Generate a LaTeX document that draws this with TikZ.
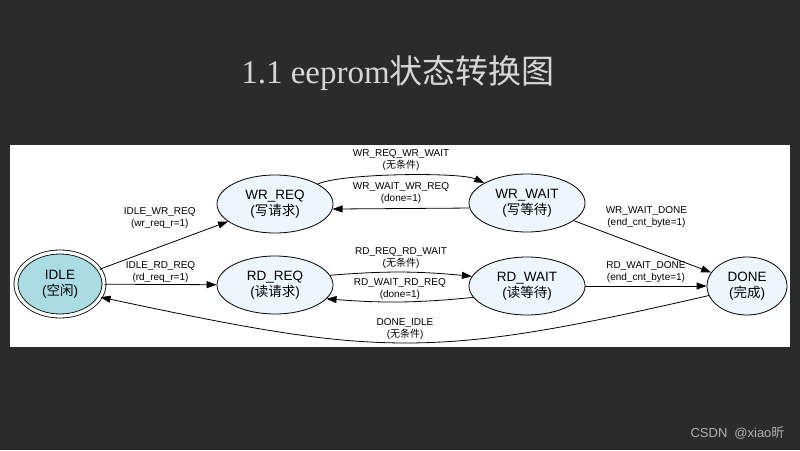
\documentclass[tikz,border=0pt]{standalone}
\usepackage{fontspec}
\setmainfont{Liberation Sans}
\newfontfamily\titlefont{Liberation Serif}
\newfontfamily\cjk{Noto Sans CJK SC}
\usetikzlibrary{shapes.geometric,arrows.meta}
\definecolor{bgdark}{HTML}{2B2B2B}
\definecolor{statefill}{HTML}{EEF6FD}
\definecolor{idlefill}{HTML}{AADDE3}
\definecolor{titlegray}{HTML}{D6D6D6}
\begin{document}
\begin{tikzpicture}
		[x=1pt,y=1pt,
		state/.style={ellipse,draw,line width=0.8pt,fill=statefill,
			minimum width=116pt,minimum height=58pt,inner sep=0pt,
			align=center,font=\fontsize{13.5}{16}\selectfont},
		lbl/.style={align=center,inner sep=0pt,
			font=\fontsize{10}{12}\selectfont},
		arr/.style={-{Triangle[length=10pt,width=7pt]},line width=0.8pt}]
		\fill[bgdark] (0,0) rectangle (800,450);
		\fill[white] (10,103) rectangle (790,305);
		\node (title) at (398,377) [text=titlegray,font=\fontsize{33}{36}\selectfont]
			{{\titlefont 1.1 eeprom}{\cjk 状态转换图}};
		\node (mark) at (788,17) [anchor=east,text=gray!60,font=\fontsize{13}{15}\selectfont]
			{CSDN\hspace{7pt}@xiao{\cjk 昕}};
		% states
		\node[state,fill=idlefill,minimum width=88pt,minimum height=64pt,
			double,double distance=3.2pt] (idle) at (60,166) {IDLE\\({\cjk 空闲})};
		\node[state] (wrreq) at (275,246) {WR\_REQ\\({\cjk 写请求})};
		\node[state] (rdreq) at (275,165) {RD\_REQ\\({\cjk 读请求})};
		\node[state] (wrwait) at (527,247) {WR\_WAIT\\({\cjk 写等待})};
		\node[state] (rdwait) at (527,164) {RD\_WAIT\\({\cjk 读等待})};
		\node[state,minimum width=80pt] (done) at (747,164) {DONE\\({\cjk 完成})};
		% transitions
		\draw[arr] (idle) -- node[lbl,shift={(-4,27)}] {IDLE\_WR\_REQ\\(wr\_req\_r=1)} (wrreq);
		\draw[arr] (idle) -- node[lbl,shift={(0,12.5)}] {IDLE\_RD\_REQ\\(rd\_req\_r=1)} (rdreq);
		\draw[arr] (wrreq) to[out=25,in=155,looseness=0.4]
			node[lbl,shift={(0,15)}] {WR\_REQ\_WR\_WAIT\\({\cjk 无条件})} (wrwait);
		\draw[arr] (wrwait.185) -- node[lbl,shift={(0,15)}] {WR\_WAIT\_WR\_REQ\\(done=1)} (wrreq.355);
		\draw[arr] (rdreq.10) to[bend left=5]
			node[lbl,shift={(0,14)}] {RD\_REQ\_RD\_WAIT\\({\cjk 无条件})} (rdwait.170);
		\draw[arr] (rdwait.192) to[bend left=5]
			node[lbl,shift={(0,12.5)}] {RD\_WAIT\_RD\_REQ\\(done=1)} (rdreq.345);
		\draw[arr] (wrwait) -- node[lbl,shift={(4,30)}] {WR\_WAIT\_DONE\\(end\_cnt\_byte=1)} (done);
		\draw[arr] (rdwait) -- node[lbl,shift={(0,14)}] {RD\_WAIT\_DONE\\(end\_cnt\_byte=1)} (done);
		\draw[arr] (done.194) to[out=193,in=-12,looseness=1.2]
			node[lbl,shift={(0,14)}] {DONE\_IDLE\\({\cjk 无条件})} (idle.-18);
	\end{tikzpicture}
\end{document}
